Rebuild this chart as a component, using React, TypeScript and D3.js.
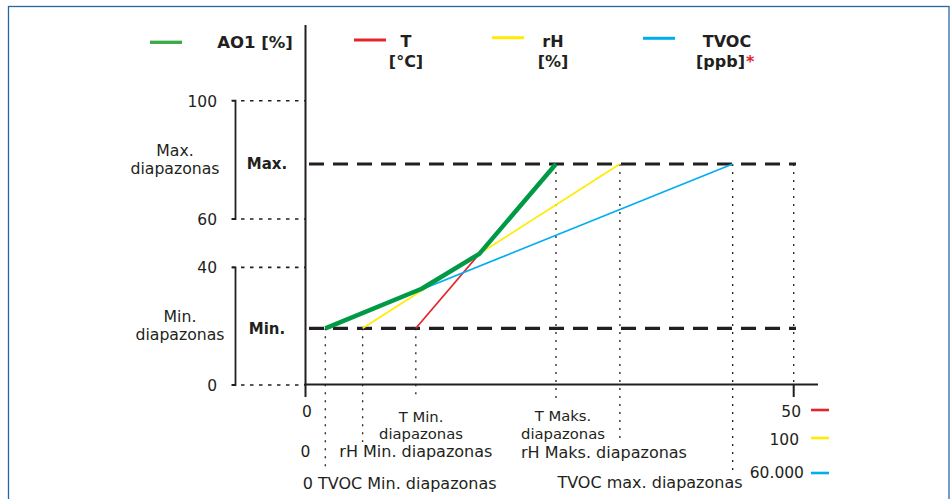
import React from "react";
import * as d3 from "d3";

// ---- data ----
const yTicks = [0, 40, 60, 100];
const levelNames = ["Min.", "Max."];
const levelValues = [20, 80];
const seriesNames = ["T", "rH", "TVOC"];
const seriesUnits = ["[°C]", "[%]", "[ppb]"];
const seriesColors = ["#e3242b", "#ffec00", "#00aeef"];
const seriesMinX = [22.6, 11.7, 4.06];
const seriesMaxX = [51.3, 64.4, 87.5];
const seriesRangeEnd = ["50", "100", "60.000"];
const ao1X = [4.06, 23.8, 35.6, 51.3];
const ao1Y = [20, 33, 45.6, 80];
const xEnd = 100;

const INK = "#231f20";
const FONT = "'DejaVu Sans', Verdana, sans-serif";

export default function App() {
  const x = d3.scaleLinear().domain([0, xEnd]).range([305.5, 793.7]);
  const y = d3
    .scaleLinear()
    .domain([0, levelValues[0], 40, 60, levelValues[1], 100])
    .range([385, 328.3, 267.4, 219, 164, 100.7]);

  const ao1 = ao1X.map((v, i) => [v, ao1Y[i]] as [number, number]);
  const line = d3
    .line<[number, number]>()
    .x((d) => x(d[0]))
    .y((d) => y(d[1]));

  const dotV = { stroke: INK, strokeWidth: 1.3, strokeDasharray: "2,6" };
  const dotH = { stroke: INK, strokeWidth: 1.6, strokeDasharray: "3.5,5.5" };
  const txt = { fontFamily: FONT, fill: INK };

  const minBottoms = [397, 442, 471];
  const maxBottoms = [400, 440, 471];

  return (
    <svg
      width={952}
      height={499}
      style={{ position: "absolute", left: 0, top: 0, background: "#fff" }}
    >
      <rect x={0} y={0} width={952} height={499} fill="#fff" />
      <rect
        x={8.5}
        y={6.5}
        width={940.5}
        height={510}
        fill="none"
        stroke="#2a66a3"
        strokeWidth={1.3}
      />

      {/* top legend */}
      <line x1={150} x2={182} y1={42.3} y2={42.3} stroke="#3aaa49" strokeWidth={3.3} />
      <text x={255} y={47.7} textAnchor="middle" fontWeight="bold" fontSize={16.5} {...txt}>
        AO1 [%]
      </text>
      {seriesNames.map((n, i) => {
        const lx = [354, 492, 643][i];
        const cx = [406, 553, 720.5][i];
        const ly = [40, 37.7, 38.3][i];
        return (
          <g key={n}>
            <line x1={lx} x2={lx + 32} y1={ly} y2={ly} stroke={seriesColors[i]} strokeWidth={3} />
            <text x={i === 2 ? 727 : cx} y={46.5} textAnchor="middle" fontWeight="bold" fontSize={16} {...txt}>
              {n}
            </text>
            <text x={cx} y={66.5} textAnchor="middle" fontWeight="bold" fontSize={16} {...txt}>
              {seriesUnits[i]}
            </text>
            {i === 2 ? (
              <text x={746} y={66.5} fontWeight="bold" fontSize={16} fontFamily={FONT} fill="#e3242b">
                *
              </text>
            ) : null}
          </g>
        );
      })}

      {/* y axis */}
      <line x1={305.5} x2={305.5} y1={25} y2={385} stroke={INK} strokeWidth={2} />
      {yTicks.map((t) => (
        <g key={t}>
          <line x1={232} x2={305} y1={y(t)} y2={y(t)} {...dotH} />
          <text x={217} y={y(t) + 6} textAnchor="end" fontSize={15.5} {...txt}>
            {t}
          </text>
        </g>
      ))}
      {[
        [60, 100],
        [0, 40],
      ].map(([a, b]) => (
        <path
          key={a}
          d={`M231.5,${y(b)}H235.5V${y(a)}H231.5`}
          fill="none"
          stroke={INK}
          strokeWidth={1.8}
        />
      ))}
      <text x={175} y={156} textAnchor="middle" fontSize={15.7} {...txt}>
        Max.
      </text>
      <text x={175} y={174} textAnchor="middle" fontSize={15.7} {...txt}>
        diapazonas
      </text>
      <text x={180} y={321.7} textAnchor="middle" fontSize={15.7} {...txt}>
        Min.
      </text>
      <text x={180} y={340} textAnchor="middle" fontSize={15.7} {...txt}>
        diapazonas
      </text>

      {/* level lines */}
      {levelValues.map((v, i) => (
        <g key={v}>
          <line
            x1={309}
            x2={796}
            y1={y(v)}
            y2={y(v)}
            stroke={INK}
            strokeWidth={3.2}
            strokeDasharray="15,9"
          />
          <text x={267} y={y(v) + 5.3} textAnchor="middle" fontWeight="bold" fontSize={15} {...txt}>
            {levelNames[i]}
          </text>
        </g>
      ))}

      {/* vertical dotted guides */}
      {seriesNames.map((n, i) => (
        <g key={n}>
          <line x1={x(seriesMinX[i])} x2={x(seriesMinX[i])} y1={y(levelValues[0])} y2={minBottoms[i]} {...dotV} />
          <line x1={x(seriesMaxX[i])} x2={x(seriesMaxX[i])} y1={y(levelValues[1])} y2={maxBottoms[i]} {...dotV} />
        </g>
      ))}
      <line x1={x(xEnd)} x2={x(xEnd)} y1={y(levelValues[1])} y2={384} {...dotV} />

      {/* x axis */}
      <line x1={304.5} x2={818} y1={384.5} y2={384.5} stroke={INK} strokeWidth={2} />
      <line x1={x(0)} x2={x(0)} y1={384} y2={397} stroke={INK} strokeWidth={2} />
      <line x1={x(xEnd)} x2={x(xEnd)} y1={384} y2={397} stroke={INK} strokeWidth={2} />

      {/* series lines */}
      {seriesNames.map((n, i) => (
        <line
          key={n}
          x1={x(seriesMinX[i])}
          y1={y(levelValues[0])}
          x2={x(seriesMaxX[i])}
          y2={y(levelValues[1])}
          stroke={seriesColors[i]}
          strokeWidth={1.7}
        />
      ))}
      <path d={line(ao1) || ""} fill="none" stroke="#009a47" strokeWidth={4.5} strokeLinejoin="round" />

      {/* bottom labels */}
      <text x={307} y={417} textAnchor="middle" fontSize={15.5} {...txt}>0</text>
      <text x={421} y={421.7} textAnchor="middle" fontSize={14.8} {...txt}>T Min.</text>
      <text x={421} y={439} textAnchor="middle" fontSize={14.8} {...txt}>diapazonas</text>
      <text x={305.5} y={456.5} textAnchor="middle" fontSize={15.5} {...txt}>0</text>
      <text x={339.3} y={457} fontSize={16} {...txt}>rH Min. diapazonas</text>
      <text x={302.7} y={489} fontSize={16} {...txt}>0 TVOC Min. diapazonas</text>

      <text x={563} y={420.7} textAnchor="middle" fontSize={14.8} {...txt}>T Maks.</text>
      <text x={563} y={439} textAnchor="middle" fontSize={14.8} {...txt}>diapazonas</text>
      <text x={604} y={458} textAnchor="middle" fontSize={16} {...txt}>rH Maks. diapazonas</text>
      <text x={650} y={488} textAnchor="middle" fontSize={16} {...txt}>TVOC max. diapazonas</text>

      {/* range ends legend */}
      {seriesRangeEnd.map((v, i) => (
        <g key={v}>
          <text x={[801, 799, 804][i]} y={[416.7, 445, 477.7][i]} textAnchor="end" fontSize={15.5} {...txt}>
            {v}
          </text>
          <line x1={811} x2={829} y1={[410, 438, 473][i]} y2={[410, 438, 473][i]} stroke={seriesColors[i]} strokeWidth={2.6} />
        </g>
      ))}
    </svg>
  );
}
